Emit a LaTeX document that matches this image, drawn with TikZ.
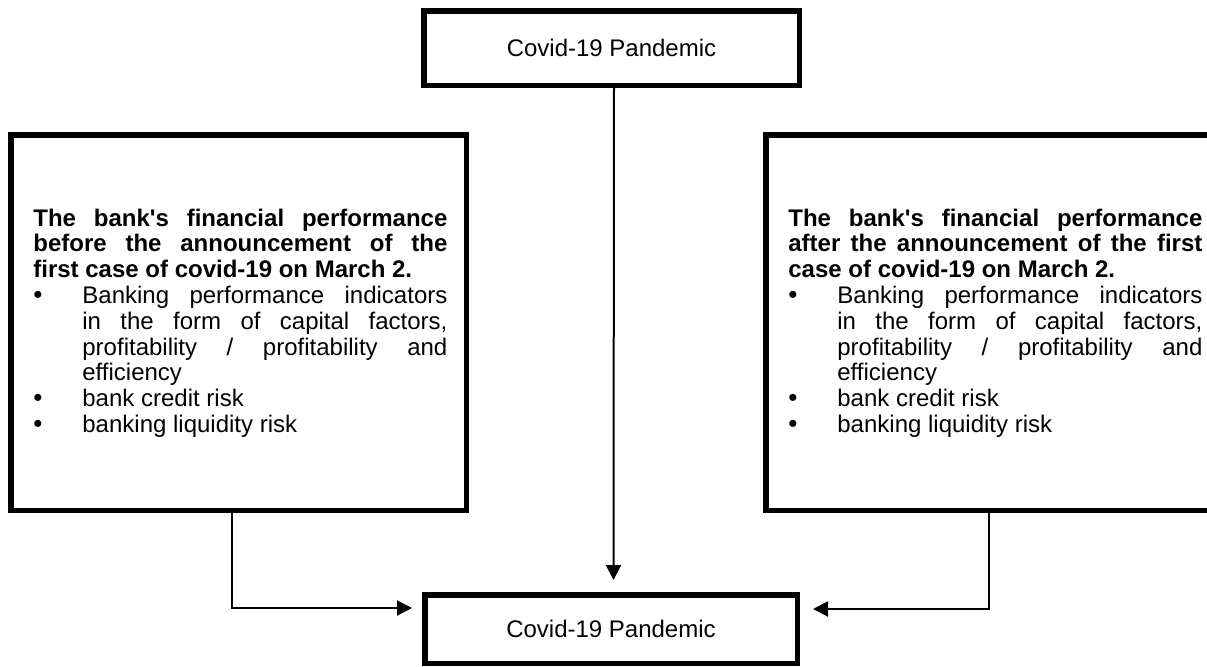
\documentclass[tikz,border=0pt]{standalone}
\usepackage{fontspec}
\setmainfont{Liberation Sans}[Ligatures=TeXOff]
\usetikzlibrary{arrows.meta}
\newcommand\myitem{\par\noindent\hangindent=24.5pt\hangafter=1\makebox[24.5pt][l]{{\fontsize{13pt}{12.9pt}\selectfont\textbullet}}}
\newcommand\bodysetup{\hyphenpenalty=10000 \exhyphenpenalty=10000 \parskip=0pt\relax}
\begin{document}
\begin{tikzpicture}[x=0.5pt,y=-0.5pt,
  box/.style={draw=black, line width=2.75pt, inner sep=0pt, rectangle, font=\fontsize{12pt}{14pt}\selectfont},
  conn/.style={draw=black, line width=1pt, -{Triangle[length=7.5pt,width=7.5pt]}},
  body/.style={text width=207pt, align=justify, inner sep=0pt, anchor=base west,
    font=\fontsize{12pt}{12.9pt}\selectfont}
]
\useasboundingbox (0,0) rectangle (1207,666);
\clip (0,0) rectangle (1207,666);
\node[box, minimum width=187.75pt, minimum height=37.25pt] (top) at (611.5,48) {Covid-19 Pandemic};
\node[box, minimum width=186.25pt, minimum height=34.25pt] (bot) at (611,629) {Covid-19 Pandemic};
\node[box, minimum width=227.75pt, minimum height=187.75pt] (L) at (238.5,322.5) {};
\node[box, minimum width=227.75pt, minimum height=187.75pt] (R) at (993.5,322.5) {};
\node[body] (Lt) at (33,226) {\bodysetup\textbf{The bank's financial performance\linebreak before the announcement of the\linebreak first case of covid-19 on March 2.}
\myitem Banking performance indicators\linebreak in the form of capital factors,\linebreak profitability / profitability and\linebreak efficiency
\myitem bank credit risk
\myitem banking liquidity risk\par};
\node[body] (Rt) at (788,226) {\bodysetup\textbf{The bank's financial performance\linebreak after the announcement of the first\linebreak case of covid-19 on March 2.}
\myitem Banking performance indicators\linebreak in the form of capital factors,\linebreak profitability / profitability and\linebreak efficiency
\myitem bank credit risk
\myitem banking liquidity risk\par};
\draw[conn] ([xshift=1.25pt]top.south) -- ([xshift=1.25pt,yshift=6pt]bot.north);
\draw[conn] ([xshift=-3.25pt]L.south) |- ([xshift=-5pt,yshift=10.5pt]bot.west);
\draw[conn] ([xshift=-2.25pt]R.south) |- ([xshift=6.5pt,yshift=10pt]bot.east);
\end{tikzpicture}
\end{document}
